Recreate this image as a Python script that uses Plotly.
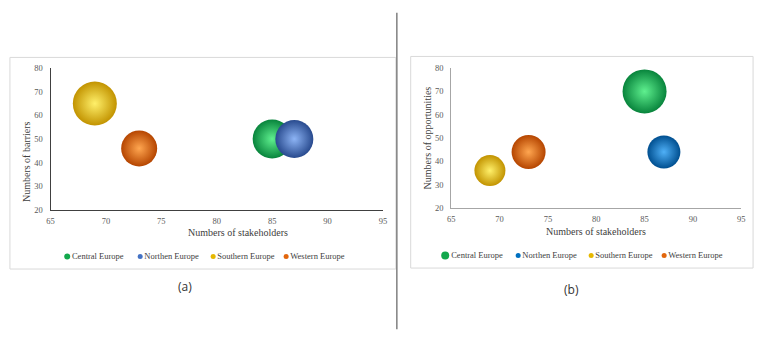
import plotly.graph_objects as go

W, H = 764, 341

regions = ["Central Europe", "Northen Europe", "Southern Europe", "Western Europe"]

# Panel (a): stakeholders vs barriers
a_stakeholders = [85, 87, 69, 73]
a_barriers = [50, 50, 65, 46]
a_bubble = [39, 38, 44, 36]

# Panel (b): stakeholders vs opportunities
b_stakeholders = [85, 87, 69, 73]
b_opportunities = [70, 44, 36, 44]
b_bubble = [44, 33, 31, 34]

x_ticks = [65, 70, 75, 80, 85, 90, 95]
y_ticks = [20, 30, 40, 50, 60, 70, 80]

# highlight (centre) and edge colours for sphere look
a_light = ["#5ff08f", "#8db4f5", "#fff06a", "#ffa650"]
a_dark = ["#08843c", "#284a8e", "#c29300", "#b54500"]
b_light = ["#5ff08f", "#4fb0f7", "#fff06a", "#ffa650"]
b_dark = ["#08843c", "#004f90", "#c29300", "#b54500"]
a_leg = ["#12a84c", "#4472c4", "#e6b800", "#e2660c"]
b_leg = ["#12a84c", "#0070c0", "#e6b800", "#e2660c"]
a_leg_size = [6, 5, 5, 5]
b_leg_size = [8, 5, 5, 5]

SERIF = "Liberation Serif, Times New Roman, Times, serif"

def px(x):
    return x / W

def py(y):
    return 1 - y / H

fig = go.Figure()

for i, r in enumerate(regions):
    fig.add_trace(go.Scatter(
        x=[a_stakeholders[i]], y=[a_barriers[i]], mode="markers", name=r,
        xaxis="x", yaxis="y", showlegend=False, hoverinfo="skip", cliponaxis=False,
        marker=dict(size=[a_bubble[i]], sizemode="diameter", sizeref=1,
                    color=a_dark[i], gradient=dict(type="radial", color=a_light[i]),
                    line=dict(width=0), opacity=1)))
    fig.add_trace(go.Scatter(
        x=[b_stakeholders[i]], y=[b_opportunities[i]], mode="markers", name=r,
        xaxis="x2", yaxis="y2", showlegend=False, hoverinfo="skip", cliponaxis=False,
        marker=dict(size=[b_bubble[i]], sizemode="diameter", sizeref=1,
                    color=b_dark[i], gradient=dict(type="radial", color=b_light[i]),
                    line=dict(width=0), opacity=1)))

# legends (drawn on hidden category axes)
for i, r in enumerate(regions):
    fig.add_trace(go.Scatter(
        x=[r], y=[0], mode="markers+text", text=[r], textposition="middle right",
        textfont=dict(family=SERIF, size=8.5, color="#404040"), cliponaxis=False,
        xaxis="x3", yaxis="y3", showlegend=False, hoverinfo="skip",
        marker=dict(size=a_leg_size[i], color=a_leg[i])))
    fig.add_trace(go.Scatter(
        x=[r], y=[0], mode="markers+text", text=[r], textposition="middle right",
        textfont=dict(family=SERIF, size=8.5, color="#404040"), cliponaxis=False,
        xaxis="x4", yaxis="y4", showlegend=False, hoverinfo="skip",
        marker=dict(size=b_leg_size[i], color=b_leg[i])))

tickfont = dict(family=SERIF, size=8.5, color="#595959")

def xax(domain, anchor, lc):
    return dict(domain=domain, anchor=anchor, range=[65, 95], tickvals=x_ticks,
                showgrid=False, zeroline=False, showline=True, linecolor=lc, linewidth=1,
                ticks="", tickfont=tickfont, ticklabelstandoff=3, fixedrange=True)

def yax(domain, anchor, lc):
    return dict(domain=domain, anchor=anchor, range=[20, 80], tickvals=y_ticks,
                showgrid=False, zeroline=False, showline=True, linecolor=lc, linewidth=1,
                ticks="", tickfont=tickfont, ticklabelstandoff=5, fixedrange=True)

hidden = dict(visible=False, showgrid=False, zeroline=False, fixedrange=True)

fig.update_layout(
    width=W, height=H, margin=dict(l=0, r=0, t=0, b=0),
    paper_bgcolor="white", plot_bgcolor="rgba(0,0,0,0)",
    showlegend=False,
    xaxis=xax([px(47), px(383)], "y", "#404040"),
    yaxis=yax([py(211), py(65)], "x", "#404040"),
    xaxis2=xax([px(452), px(745)], "y2", "#a6a6a6"),
    yaxis2=yax([py(209), py(65)], "x2", "#a6a6a6"),
    xaxis3=dict(hidden, domain=[px(27), px(322)], anchor="y3", type="category",
                categoryorder="array", categoryarray=regions, range=[-0.5, 3.5]),
    yaxis3=dict(hidden, domain=[py(269), py(249)], anchor="x3", range=[-1, 1]),
    xaxis4=dict(hidden, domain=[px(409), px(704)], anchor="y4", type="category",
                categoryorder="array", categoryarray=regions, range=[-0.5, 3.5]),
    yaxis4=dict(hidden, domain=[py(268), py(248)], anchor="x4", range=[-1, 1]),
)

shapes = [
    dict(type="rect", xref="paper", yref="paper", x0=px(6), x1=px(396), y0=py(272), y1=py(54),
         line=dict(color="#d9d9d9", width=1), layer="below"),
    dict(type="rect", xref="paper", yref="paper", x0=px(411), x1=px(757), y0=py(271), y1=py(53),
         line=dict(color="#d9d9d9", width=1), layer="below"),
    dict(type="line", xref="paper", yref="paper", x0=px(397), x1=px(397), y0=py(334), y1=py(8),
         line=dict(color="#808080", width=1.5)),
]

titlefont = dict(family=SERIF, size=10, color="#404040")
annotations = [
    dict(text="Numbers of stakeholders", xref="paper", yref="paper", x=px(236), y=py(234),
         showarrow=False, font=titlefont, xanchor="center", yanchor="middle"),
    dict(text="Numbers of barriers", xref="paper", yref="paper", x=px(23), y=py(161),
         showarrow=False, font=titlefont, textangle=-90, xanchor="center", yanchor="middle"),
    dict(text="Numbers of stakeholders", xref="paper", yref="paper", x=px(598), y=py(233),
         showarrow=False, font=titlefont, xanchor="center", yanchor="middle"),
    dict(text="Numbers of opportunities", xref="paper", yref="paper", x=px(428), y=py(137),
         showarrow=False, font=titlefont, textangle=-90, xanchor="center", yanchor="middle"),
    dict(text="(a)", xref="paper", yref="paper", x=px(183), y=py(290),
         showarrow=False, font=dict(family="Open Sans", size=12, color="#333333"),
         xanchor="center", yanchor="middle"),
    dict(text="(b)", xref="paper", yref="paper", x=px(573), y=py(293),
         showarrow=False, font=dict(family="Open Sans", size=12, color="#333333"),
         xanchor="center", yanchor="middle"),
]

fig.update_layout(shapes=shapes, annotations=annotations)

fig.write_html("out.html", config={"displayModeBar": False},
               post_script="document.body.style.margin='0';document.body.style.overflow='hidden';")
